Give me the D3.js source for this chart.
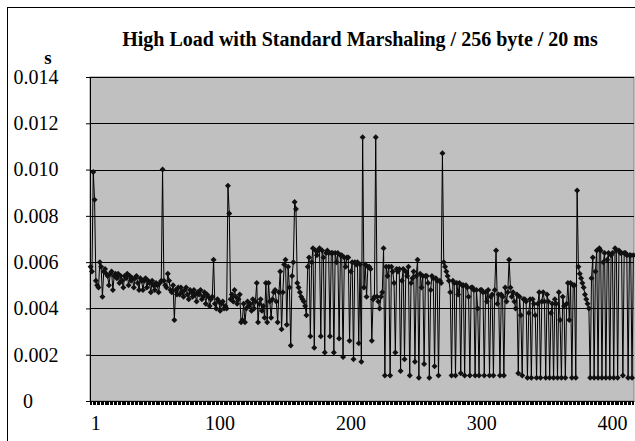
<!DOCTYPE html>
<html>
<head>
<meta charset="utf-8">
<script src="https://cdn.jsdelivr.net/npm/d3@7"></script>
<style>
    body { margin: 0; background: #fff; }
    .axis text { font-family: "Liberation Serif", "Times New Roman", serif; }
</style>
</head>
<body>
<div id="chart"></div>
<script>

// response time per request, in milliseconds
let responseTimes = [
    5.8, 5.6, 9.9, 8.7, 5.2, 5.0, 4.9, 6.0, 5.8, 4.5,
    5.6, 5.7, 5.5, 5.4, 5.0, 5.5, 5.6, 4.8, 5.4, 5.5,
    5.3, 5.5, 5.1, 5.4, 5.2, 4.9, 5.4, 5.3, 5.5, 5.0,
    5.4, 5.2, 5.3, 4.9, 5.3, 5.4, 5.1, 4.8, 5.3, 5.2,
    4.8, 5.2, 5.3, 4.9, 5.2, 5.1, 4.7, 5.2, 5.0, 4.8,
    5.1, 5.0, 4.7, 5.1, 5.2, 10.0, 5.2, 5.0, 4.9, 5.5,
    5.2, 4.8, 4.7, 5.0, 3.5, 4.8, 4.6, 4.9, 4.6, 4.9,
    4.7, 4.5, 4.8, 4.9, 4.6, 4.4, 4.8, 4.7, 4.5, 4.8,
    4.6, 4.3, 4.7, 4.6, 4.8, 4.4, 4.5, 4.7, 4.2, 4.6,
    4.5, 4.1, 4.4, 4.5, 6.1, 4.2, 4.0, 4.4, 4.3, 3.9,
    4.2, 4.3, 4.0, 4.1, 4.0, 9.3, 8.1, 4.4, 4.6, 4.3,
    4.8, 4.5, 4.2, 4.4, 4.6, 3.4, 3.5, 4.2, 3.4, 4.0,
    4.3, 4.1, 4.2, 3.9, 4.4, 4.0, 4.3, 5.1, 3.4, 4.2,
    4.4, 3.9, 4.1, 3.6, 5.1, 3.4, 5.1, 4.3, 3.6, 4.4,
    4.7, 4.8, 4.3, 3.4, 4.7, 5.6, 3.1, 4.7, 5.9, 6.1,
    3.3, 5.8, 4.9, 2.4, 5.4, 6.0, 8.6, 8.3, 5.1, 4.9,
    4.7, 4.5, 4.4, 4.3, 4.1, 3.7, 5.8, 6.2, 2.8, 6.0,
    6.6, 2.3, 6.5, 6.3, 6.5, 6.6, 2.8, 6.5, 6.2, 2.1,
    6.4, 6.5, 6.4, 2.8, 6.4, 6.4, 2.1, 6.4, 6.0, 6.4,
    2.7, 6.3, 6.3, 1.9, 6.2, 5.8, 6.2, 6.2, 2.6, 5.6,
    6.0, 1.8, 6.0, 5.9, 6.0, 2.5, 5.9, 1.7, 11.4, 4.9,
    5.9, 4.5, 5.8, 5.8, 5.7, 2.6, 4.4, 4.5, 11.4, 4.5,
    4.3, 4.0, 4.5, 4.7, 6.6, 1.1, 5.8, 5.4, 5.8, 1.1,
    5.8, 5.6, 5.1, 2.1, 5.7, 5.6, 5.7, 1.3, 5.2, 5.7,
    1.8, 5.6, 5.4, 5.8, 1.1, 5.1, 5.3, 5.6, 1.7, 5.4,
    6.1, 1.0, 5.5, 4.9, 5.4, 1.6, 5.4, 5.4, 5.1, 1.0,
    4.8, 5.4, 5.3, 1.5, 5.3, 5.2, 1.1, 5.2, 5.1, 10.7,
    6.0, 5.8, 5.6, 5.4, 5.2, 4.7, 1.1, 5.2, 5.1, 1.1,
    5.1, 4.6, 5.1, 1.2, 5.0, 5.0, 1.1, 5.0, 4.9, 4.5,
    1.1, 4.9, 4.9, 4.8, 1.1, 4.8, 4.0, 1.1, 4.8, 4.8,
    4.7, 1.1, 4.7, 4.3, 4.8, 1.1, 4.5, 4.6, 1.1, 4.8,
    6.5, 4.2, 4.6, 1.1, 4.6, 4.5, 1.1, 4.9, 4.3, 4.7,
    6.1, 4.9, 4.5, 4.7, 4.3, 4.0, 4.6, 1.2, 4.5, 3.7,
    1.1, 4.4, 4.4, 4.3, 1.0, 3.8, 4.4, 1.0, 4.4, 4.2,
    3.7, 1.0, 4.2, 4.7, 1.0, 4.3, 4.7, 4.3, 1.0, 4.6,
    4.3, 1.0, 3.8, 4.2, 1.0, 4.4, 4.2, 1.0, 4.7, 3.5,
    1.0, 4.5, 4.1, 1.0, 4.2, 5.1, 3.5, 5.1, 1.0, 5.0,
    5.0, 1.0, 9.1, 5.8, 5.5, 5.3, 5.1, 4.9, 4.6, 4.4,
    4.2, 4.0, 1.0, 5.3, 6.2, 1.0, 5.6, 6.5, 1.0, 6.6,
    6.5, 1.0, 6.0, 6.4, 1.0, 6.1, 6.4, 1.0, 6.3, 6.4,
    1.0, 6.6, 6.5, 1.0, 6.5, 6.4, 6.4, 1.1, 6.4, 6.4,
    6.3, 1.0, 6.3, 6.3, 1.0, 6.3
];

// request numbers 1..n
let requestIds = responseTimes.map((d, i) => i + 1);

let xLabels = [1, 100, 200, 300, 400];
let yTicks = [0, 2, 4, 6, 8, 10, 12, 14];

let chartTitle = "High Load with Standard Marshaling / 256 byte / 20 ms";
let yUnit = "s";


let margin = {top: 77, right: 1, bottom: 40, left: 90};
let totalWidth = 635, totalHeight = 441;
let width = totalWidth - margin.left - margin.right,
    height = 401 - margin.top;

let serif = "Liberation Serif, Times New Roman, serif";

let svg = d3.select("#chart").append("svg")
    .attr("width", totalWidth)
    .attr("height", totalHeight);

// outer chart border (runs off the right and bottom edges)
svg.append("rect")
    .attr("x", 7.5)
    .attr("y", 7.5)
    .attr("width", 700)
    .attr("height", 500)
    .attr("fill", "none")
    .attr("stroke", "#000");

svg.append("text")
    .attr("x", 360)
    .attr("y", 46)
    .attr("text-anchor", "middle")
    .attr("font-family", serif)
    .attr("font-weight", "bold")
    .attr("font-size", 20)
    .text(chartTitle);

svg.append("text")
    .attr("x", 48)
    .attr("y", 64)
    .attr("text-anchor", "middle")
    .attr("font-family", serif)
    .attr("font-weight", "bold")
    .attr("font-size", 19)
    .text(yUnit);

let g = svg.append("g")
    .attr("transform", `translate(${margin.left}, ${margin.top})`);

// Scales
let x = d3.scaleBand()
    .domain(requestIds)
    .range([0, width])
    .padding(0);

let y = d3.scaleLinear()
    .domain([0, 14])
    .range([height, 0]);

let xc = d => x(d) + x.bandwidth() / 2;

// plot background
g.append("rect")
    .attr("width", width)
    .attr("height", height)
    .attr("fill", "#c0c0c0")
    .attr("stroke", "#808080");

// gridlines
g.append("g")
    .selectAll("line")
    .data(yTicks.filter(d => d > 0))
    .enter()
    .append("line")
    .attr("x1", 0)
    .attr("x2", width)
    .attr("y1", d => Math.round(y(d)) + 0.5)
    .attr("y2", d => Math.round(y(d)) + 0.5)
    .attr("stroke", "#000");

// category tick marks
let xTickAxis = d3.axisBottom(x)
    .tickFormat("")
    .tickSizeInner(4)
    .tickSizeOuter(0);

let xTickGroup = g.append("g")
    .attr("class", "x-axis axis")
    .attr("transform", `translate(0, ${height})`)
    .call(xTickAxis);
xTickGroup.select(".domain").attr("stroke", "#000");
xTickGroup.selectAll(".tick line")
    .attr("stroke", "#000")
    .attr("shape-rendering", "crispEdges");

// x labels
let xLabelAxis = d3.axisBottom(x)
    .tickValues(xLabels)
    .tickSize(0)
    .tickPadding(15);

let xLabelGroup = g.append("g")
    .attr("class", "axis")
    .attr("transform", `translate(0, ${height})`)
    .call(xLabelAxis);
xLabelGroup.select(".domain").remove();
xLabelGroup.selectAll("text")
    .attr("font-size", 20)
    .attr("fill", "#000")
    .attr("dx", d => d === 1 ? 5 : 0);

// y axis
let yAxis = d3.axisLeft(y)
    .tickValues(yTicks)
    .tickSizeInner(4)
    .tickSizeOuter(0)
    .tickPadding(0)
    .tickFormat(d => d === 0 ? "0" : (d / 1000).toFixed(3));

let yAxisGroup = g.append("g")
    .attr("class", "y-axis axis")
    .call(yAxis);
yAxisGroup.select(".domain").attr("stroke", "#000");
yAxisGroup.selectAll("text")
    .attr("font-size", 20)
    .attr("fill", "#000")
    .attr("text-anchor", "middle")
    .attr("x", d => d === 0 ? -62 : -54);

// series line
let line = d3.line()
    .x((d, i) => xc(requestIds[i]))
    .y(d => y(d));

g.append("path")
    .datum(responseTimes)
    .attr("fill", "none")
    .attr("stroke", "#000")
    .attr("stroke-width", 1)
    .attr("d", line);

// diamond markers
let diamond = "M0,-3L3,0L0,3L-3,0Z";

g.append("g")
    .selectAll("path")
    .data(responseTimes)
    .enter()
    .append("path")
    .attr("d", diamond)
    .attr("transform", (d, i) => `translate(${xc(requestIds[i])}, ${y(d)})`)
    .attr("fill", "#111");

</script>
</body>
</html>
